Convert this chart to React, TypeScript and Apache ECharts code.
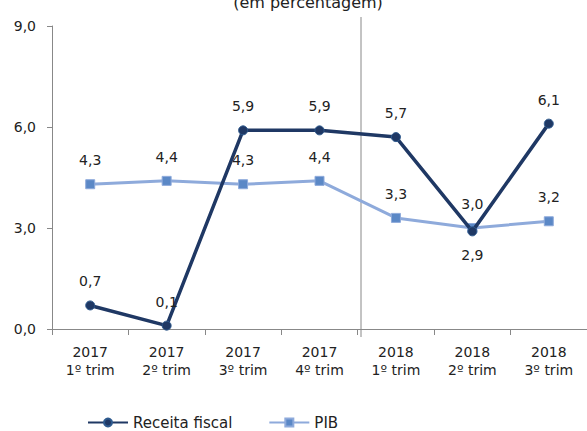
import React, { useEffect, useRef } from "react";
import * as echarts from "echarts";

const categories = ["2017\n1º trim", "2017\n2º trim", "2017\n3º trim", "2017\n4º trim", "2018\n1º trim", "2018\n2º trim", "2018\n3º trim"];
const receitaFiscal = [0.7, 0.1, 5.9, 5.9, 5.7, 2.9, 6.1];
const pib = [4.3, 4.4, 4.3, 4.4, 3.3, 3.0, 3.2];
const receitaBelow = [false, false, false, false, false, true, false];
const titleText = "(em percentagem)";

const FONT = "DejaVu Sans";
const fmt = (v: number) => v.toFixed(1).replace(".", ",");

export default function App() {
  const ref = useRef<HTMLDivElement>(null);
  useEffect(() => {
    if (!ref.current) return;
    const chart = echarts.init(ref.current, undefined, { renderer: "svg" });
    chart.setOption({
      animation: false,
      textStyle: { fontFamily: FONT },
      grid: { left: 52, right: -7, top: 26, bottom: 102 },
      legend: {
        left: 82,
        top: 410,
        itemWidth: 40,
        itemHeight: 10,
        itemGap: 36,
        textStyle: { fontFamily: FONT, fontSize: 15, color: "#222" },
        data: ["Receita fiscal", "PIB"],
      },
      xAxis: {
        type: "category",
        data: categories,
        boundaryGap: true,
        axisLine: { lineStyle: { color: "#888", width: 1 } },
        axisTick: { show: true, length: 6, lineStyle: { color: "#888" } },
        axisLabel: { fontFamily: FONT, fontSize: 14, color: "#222", margin: 14, lineHeight: 18, interval: 0 },
      },
      yAxis: {
        type: "value",
        min: 0,
        max: 9,
        interval: 3,
        splitLine: { show: false },
        axisLine: { show: true, lineStyle: { color: "#888", width: 1 } },
        axisTick: { show: true, length: 5, lineStyle: { color: "#888" } },
        axisLabel: { fontFamily: FONT, fontSize: 14, color: "#222", margin: 16, formatter: (v: number) => fmt(v) },
      },
      graphic: [
        {
          type: "line",
          shape: { x1: 361, y1: 17, x2: 361, y2: 337 },
          style: { stroke: "#888", lineWidth: 1 },
          z: 1,
        },
        {
          type: "text",
          x: 308,
          y: 2,
          style: { text: titleText, fontFamily: FONT, fontSize: 16, fill: "#222", textAlign: "center", textVerticalAlign: "middle" },
        },
      ],
      series: [
        {
          name: "PIB",
          type: "line",
          data: pib,
          symbol: "rect",
          symbolSize: 9,
          z: 2,
          lineStyle: { color: "#8EAADB", width: 3 },
          itemStyle: { color: "#5B88C6", borderColor: "#8EAADB", borderWidth: 1 },
          label: {
            show: true,
            position: "top",
            distance: 12,
            fontFamily: FONT,
            fontSize: 14,
            color: "#222",
            formatter: (p: any) => fmt(p.value),
          },
        },
        {
          name: "Receita fiscal",
          type: "line",
          data: receitaFiscal.map((v, i) => ({
            value: v,
            label: { position: receitaBelow[i] ? "bottom" : "top" },
          })),
          symbol: "circle",
          symbolSize: 9,
          z: 3,
          lineStyle: { color: "#1F3864", width: 3.5 },
          itemStyle: { color: "#1F3864", borderColor: "#2E5A8E", borderWidth: 1 },
          label: {
            show: true,
            distance: 12,
            fontFamily: FONT,
            fontSize: 14,
            color: "#222",
            formatter: (p: any) => fmt(p.value),
          },
        },
      ],
    });
    return () => chart.dispose();
  }, []);
  return <div ref={ref} style={{ position: "absolute", left: 0, top: 0, width: 587, height: 431 }} />;
}
